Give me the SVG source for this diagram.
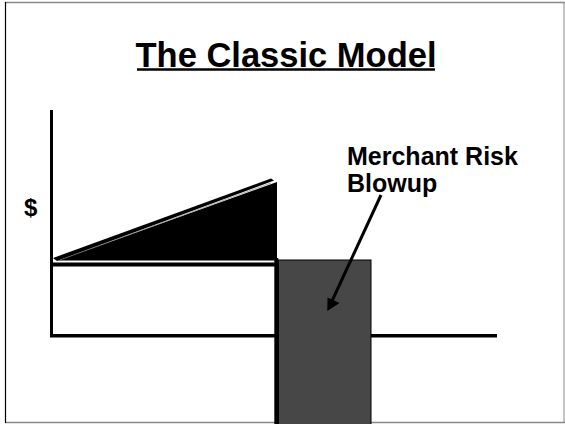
<svg xmlns="http://www.w3.org/2000/svg" width="565" height="424" viewBox="0 0 565 424">
<style>
text{font-family:"Liberation Sans",Arial,sans-serif;font-weight:bold;fill:#000}
.ax{stroke:#000;fill:none}
</style>
<rect x="0" y="0" width="565" height="424" fill="#fff"/>
<g id="frame">
<line x1="5" y1="2.5" x2="565" y2="2.5" stroke="#888" stroke-width="1.5"/>
<line x1="5" y1="422.5" x2="565" y2="422.5" stroke="#888" stroke-width="1.5"/>
<line x1="5.5" y1="2" x2="5.5" y2="423" stroke="#000" stroke-width="1.2"/>
<line x1="564" y1="2" x2="564" y2="423" stroke="#888" stroke-width="1"/>
</g>
<g id="title">
<text x="286" y="66.5" font-size="34.5" text-anchor="middle">The Classic Model</text>
<line x1="137" y1="69.5" x2="435" y2="69.5" stroke="#000" stroke-width="2.5"/>
</g>
<g id="dollar"><text x="24" y="216" font-size="24">$</text></g>
<g id="axes">
<line class="ax" x1="51.5" y1="110" x2="51.5" y2="337" stroke-width="3"/>
<line class="ax" x1="50" y1="335.7" x2="497" y2="335.7" stroke-width="3.5"/>
<line class="ax" x1="50" y1="264.5" x2="276" y2="264.5" stroke-width="4"/>
</g>
<g id="wedge">
<polygon points="58,260.5 277,182 277,260.5" fill="#000"/>
<polygon points="53,258 271,178.5 274,180.5 57,261" fill="#000"/>
<line x1="60" y1="260" x2="271" y2="183" stroke="#777" stroke-width="0.6"/>
</g>
<g id="blowup">
<rect x="278.5" y="260" width="92.5" height="165" fill="#474747" stroke="#000" stroke-width="1"/>
<line class="ax" x1="276.3" y1="258" x2="276.3" y2="424" stroke-width="4"/>
</g>
<g id="label">
<text x="347" y="165" font-size="25">Merchant Risk</text>
<text x="347" y="192" font-size="25">Blowup</text>
</g>
<g id="connectors">
<line x1="381" y1="195" x2="332" y2="301" stroke="#000" stroke-width="3"/>
<polygon points="327.3,311 327.5,297.5 339.5,303" fill="#000"/>
</g>
</svg>
